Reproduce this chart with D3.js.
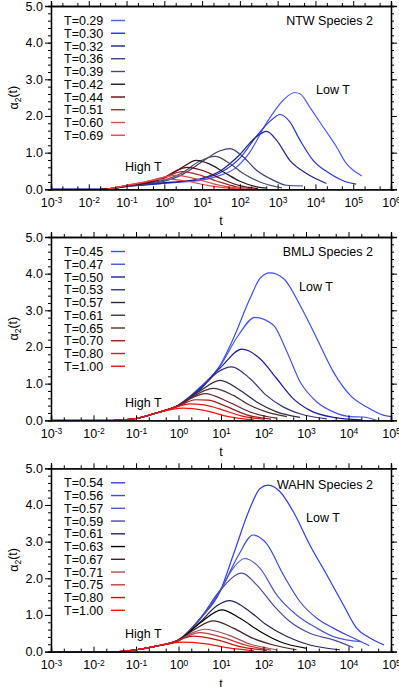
<!DOCTYPE html>
<html>
<head>
<meta charset="utf-8">
<script src="https://cdn.jsdelivr.net/npm/d3@7"></script>
<style>
  body { margin: 0; background: #fff; }
  svg text { font-family: "Liberation Sans", Arial, Helvetica, sans-serif; }
</style>
</head>
<body>
<svg id="chart" width="399" height="687"></svg>
<script>
// ---- NTW species 2 ----
const ntwTemps  = ["0.29", "0.30", "0.32", "0.36", "0.39", "0.42", "0.44", "0.51", "0.60", "0.69"];
const ntwColors = ["#4a5cff", "#2233dd", "#1c2299", "#3c3c88", "#4a4a66", "#2a1a1a", "#6b0a0a", "#a82a2a", "#e44a4a", "#ff3c3c"];
const ntwCurves = [
  [[1e-3,0],[0.02,0],[0.05,0.03],[0.1,0.08],[0.3,0.12],[1,0.16],[3,0.2],[10,0.25],[30,0.38],[70,0.55],[180,1.0],[500,1.8],[1.4e3,2.43],[2.8e3,2.64],[4e3,2.6],[7e3,2.25],[1.6e4,1.7],[3.6e4,1.16],[6.6e4,0.7],[1e5,0.52],[1.7e5,0.36]],
  [[1e-3,0],[0.02,0],[0.05,0.03],[0.1,0.08],[0.3,0.12],[1,0.17],[3,0.21],[10,0.28],[30,0.45],[100,0.85],[300,1.5],[700,1.9],[1.15e3,2.04],[2.1e3,1.84],[3.9e3,1.34],[8.7e3,0.79],[2.4e4,0.43],[6.6e4,0.2],[1.2e5,0.14]],
  [[1e-3,0],[0.02,0],[0.05,0.03],[0.1,0.08],[0.3,0.13],[1,0.18],[3,0.22],[10,0.3],[30,0.5],[100,0.95],[250,1.4],[510,1.58],[930,1.34],[2.1e3,0.79],[5.8e3,0.43],[1.95e4,0.16]],
  [[1e-3,0],[0.02,0],[0.05,0.03],[0.1,0.08],[0.3,0.14],[1,0.22],[3,0.4],[10,0.75],[30,1.05],[55,1.11],[123,0.88],[275,0.52],[760,0.25],[1.7e3,0.11],[4.7e3,0.09]],
  [[0.02,0],[0.05,0.03],[0.1,0.09],[0.3,0.15],[1,0.25],[3,0.45],[8,0.75],[22,0.9],[55,0.7],[123,0.43],[340,0.2],[930,0.07],[1.3e3,0.04]],
  [[0.02,0],[0.05,0.03],[0.1,0.09],[0.3,0.16],[1,0.3],[3,0.6],[7,0.79],[15,0.7],[40,0.45],[100,0.22],[300,0.06],[500,0.03]],
  [[0.03,0],[0.1,0.1],[0.3,0.18],[1,0.32],[2,0.5],[4,0.6],[10,0.52],[30,0.3],[100,0.1],[300,0.02]],
  [[0.03,0],[0.1,0.1],[0.3,0.19],[1,0.33],[3,0.48],[8,0.4],[25,0.22],[80,0.07],[200,0.02]],
  [[0.03,0],[0.1,0.11],[0.3,0.2],[1,0.33],[2,0.38],[6,0.3],[20,0.15],[60,0.05],[130,0.02]],
  [[0.03,0],[0.1,0.11],[0.3,0.2],[0.6,0.26],[1.2,0.28],[4,0.22],[15,0.1],[50,0.03],[100,0.01]]
];

// ---- BMLJ species 2 ----
const bmljTemps  = ["0.45", "0.47", "0.50", "0.53", "0.57", "0.61", "0.65", "0.70", "0.80", "1.00"];
const bmljColors = ["#3a4cff", "#4454ee", "#1a1aaa", "#33337a", "#2a2a40", "#4a3030", "#6a2424", "#a01c1c", "#e01414", "#ff1010"];
const bmljCurves = [
  [[1e-3,0],[0.03,0],[0.05,0.01],[0.1,0.05],[0.3,0.2],[1,0.42],[3.2,0.9],[9.5,1.5],[19.5,2.23],[48,3.32],[83,3.87],[141,4.02],[295,3.87],[725,3.14],[1.8e3,2.23],[4.4e3,1.32],[1.1e4,0.68],[2.7e4,0.36],[6.6e4,0.14],[1e5,0.1]],
  [[1e-3,0],[0.03,0],[0.05,0.01],[0.1,0.05],[0.3,0.2],[1,0.42],[3.2,0.88],[9.5,1.48],[25,2.3],[63,2.81],[170,2.6],[355,1.87],[725,1.05],[1.8e3,0.5],[4.4e3,0.23],[1.1e4,0.1],[2.2e4,0.09],[4.6e4,0]],
  [[1e-3,0],[0.03,0],[0.05,0.01],[0.1,0.05],[0.3,0.2],[1,0.41],[3.2,0.86],[10,1.45],[31,1.94],[83,1.68],[204,1.14],[500,0.59],[1.23e3,0.27],[4.4e3,0.08],[2e4,0.01]],
  [[0.03,0],[0.05,0.01],[0.1,0.05],[0.3,0.2],[1,0.41],[3.2,0.83],[8,1.3],[17.8,1.46],[48,1.14],[117,0.68],[295,0.36],[725,0.18],[3.1e3,0.04]],
  [[0.03,0],[0.05,0.01],[0.1,0.05],[0.3,0.2],[1,0.4],[3.2,0.8],[9.5,1.09],[28,0.82],[69,0.5],[204,0.23],[725,0.08]],
  [[0.03,0],[0.1,0.05],[0.3,0.2],[1,0.4],[2,0.62],[6.6,0.87],[19.5,0.68],[48,0.41],[117,0.23],[355,0.1]],
  [[0.03,0],[0.1,0.05],[0.3,0.2],[1,0.4],[2,0.6],[4.2,0.73],[15,0.5],[50,0.22],[200,0.06]],
  [[0.03,0],[0.1,0.05],[0.3,0.2],[1,0.39],[2.5,0.56],[5,0.55],[12,0.4],[40,0.15],[150,0.03]],
  [[0.03,0],[0.1,0.05],[0.3,0.2],[1,0.38],[1.8,0.45],[4,0.42],[10,0.3],[30,0.12],[100,0.03]],
  [[0.03,0],[0.1,0.05],[0.3,0.2],[0.7,0.3],[1.3,0.33],[4,0.27],[15,0.1],[60,0.01]]
];

// ---- WAHN species 2 ----
const wahnTemps  = ["0.54", "0.56", "0.57", "0.59", "0.61", "0.63", "0.67", "0.71", "0.75", "0.80", "1.00"];
const wahnColors = ["#2a3aff", "#3a4af0", "#4a5ad8", "#4a4aa0", "#22225a", "#000000", "#4a2020", "#a45050", "#c83a3a", "#cc1010", "#ff1010"];
const wahnCurves = [
  [[1e-3,0],[0.04,0],[0.1,0.05],[0.3,0.15],[1,0.32],[3.2,0.9],[9.5,1.64],[19.5,2.64],[48,3.91],[83,4.45],[130,4.54],[245,4.36],[500,3.82],[1.23e3,2.91],[3.1e3,2.09],[7.6e3,1.27],[1.55e4,0.64],[3.2e4,0.37],[6.9e4,0.18]],
  [[1e-3,0],[0.04,0],[0.1,0.05],[0.3,0.15],[1,0.32],[3.2,0.88],[9.5,1.64],[25,2.6],[57,3.18],[117,2.95],[295,2.09],[725,1.36],[1.8e3,0.91],[4.4e3,0.64],[1.1e4,0.41],[3.1e4,0.16]],
  [[1e-3,0],[0.04,0],[0.1,0.05],[0.3,0.15],[1,0.32],[3.2,0.88],[9.5,1.66],[20,2.3],[36,2.54],[83,2.27],[204,1.55],[600,1.0],[1.8e3,0.64],[4.4e3,0.41],[2e4,0.27]],
  [[1e-3,0],[0.04,0],[0.1,0.05],[0.3,0.15],[1,0.32],[3.2,0.9],[10,1.7],[31,2.14],[69,1.82],[170,1.27],[417,0.82],[1.23e3,0.5],[4.4e3,0.32],[1.3e4,0.11]],
  [[0.04,0],[0.1,0.05],[0.3,0.15],[1,0.31],[3.2,0.8],[8,1.25],[16,1.39],[48,1.09],[117,0.73],[355,0.41],[1.23e3,0.18],[6.3e3,0.05]],
  [[0.04,0],[0.1,0.05],[0.3,0.15],[1,0.31],[3.2,0.78],[10.5,1.14],[28,0.91],[83,0.55],[245,0.27],[1.05e3,0.09]],
  [[0.04,0],[0.1,0.05],[0.3,0.15],[1,0.3],[2.5,0.62],[6.6,0.84],[19.5,0.64],[57,0.36],[170,0.18],[600,0.05]],
  [[0.04,0],[0.1,0.05],[0.3,0.15],[1,0.3],[2,0.5],[4.2,0.61],[15,0.45],[50,0.2],[200,0.05]],
  [[0.04,0],[0.1,0.05],[0.3,0.15],[1,0.3],[1.6,0.42],[3.2,0.52],[10,0.4],[40,0.17],[150,0.04]],
  [[0.04,0],[0.1,0.05],[0.3,0.15],[1,0.3],[1.4,0.37],[2.2,0.42],[8,0.32],[30,0.13],[120,0.03]],
  [[0.04,0],[0.1,0.05],[0.3,0.15],[0.6,0.22],[1.2,0.26],[4,0.22],[15,0.1],[60,0.02]]
];

const yTicks = [0, 1, 2, 3, 4, 5];

const panels = [
  {top: 6,     name: "NTW Species 2",  xmax: 1e6, temps: ntwTemps,  colors: ntwColors,  curves: ntwCurves,
   nameY: 20.7, lowT: [316, 89.3], highT: [125, 166.7]},
  {top: 237,   name: "BMLJ Species 2", xmax: 1e5, temps: bmljTemps, colors: bmljColors, curves: bmljCurves,
   nameY: 251.7, lowT: [299, 286.7], highT: [125, 402.7]},
  {top: 468.3, name: "WAHN Species 2", xmax: 1e5, temps: wahnTemps, colors: wahnColors, curves: wahnCurves,
   nameY: 484, lowT: [306, 517.7], highT: [125, 633.3]}
];

const svg = d3.select("#chart"),
      left = 51, right = 391, h = 183.3,
      fs = "12.5px";

panels.forEach((p, pi) => {
  const x = d3.scaleLog().domain([1e-3, p.xmax]).range([left, right]),
        y = d3.scaleLinear().domain([0, 5]).range([p.top + h, p.top]),
        bottom = p.top + h;

  const decades = d3.range(-3, Math.log10(p.xmax) + 1).map(e => Math.pow(10, e));
  const minors = [];
  decades.forEach(d => { if (d < p.xmax) minors.push(d * 2, d * 5); });
  const yMinor = d3.range(0, 5.01, 0.2);

  const g = svg.append("g");

  // clip path for curves
  svg.append("clipPath").attr("id", "clip" + pi)
    .append("rect").attr("x", left).attr("y", p.top).attr("width", right - left).attr("height", h);

  // curves
  const line = d3.line()
    .x(d => x(d[0]))
    .y(d => y(d[1]))
    .curve(d3.curveMonotoneX);

  g.append("g").attr("clip-path", `url(#clip${pi})`)
    .selectAll("path")
    .data(p.curves)
    .enter().append("path")
      .attr("d", line)
      .attr("fill", "none")
      .attr("stroke", (d, i) => p.colors[i])
      .attr("stroke-width", 1.2);

  // bottom axis (ticks inward)
  const xb = g.append("g")
      .attr("transform", `translate(0,${bottom})`)
      .call(d3.axisBottom(x).tickValues(decades).tickSize(-5).tickPadding(9).tickFormat(""));
  xb.selectAll(".tick text").each(function(d) {
    const t = d3.select(this);
    t.text("10");
    t.append("tspan").attr("dy", "-0.45em").attr("font-size", "8.5px").text(Math.round(Math.log10(d)));
  });
  g.append("g")
      .attr("transform", `translate(0,${bottom})`)
      .call(d3.axisBottom(x).tickValues(minors).tickSize(-3).tickFormat(""));

  // top axis (ticks outward)
  g.append("g")
      .attr("transform", `translate(0,${p.top})`)
      .call(d3.axisTop(x).tickValues(decades).tickSize(5).tickFormat(""));
  g.append("g")
      .attr("transform", `translate(0,${p.top})`)
      .call(d3.axisTop(x).tickValues(minors).tickSize(3).tickFormat(""));

  // left axis
  g.append("g")
      .attr("transform", `translate(${left},0)`)
      .call(d3.axisLeft(y).tickValues(yMinor).tickSize(3).tickFormat(""));
  g.append("g")
      .attr("transform", `translate(${left},0)`)
      .call(d3.axisLeft(y).tickValues(yTicks).tickSize(6).tickPadding(2).tickFormat(d3.format(".1f")));

  // right axis
  g.append("g")
      .attr("transform", `translate(${right},0)`)
      .call(d3.axisRight(y).tickValues(yMinor).tickSize(3).tickFormat(""));
  g.append("g")
      .attr("transform", `translate(${right},0)`)
      .call(d3.axisRight(y).tickValues(yTicks).tickSize(6).tickFormat(""));

  g.selectAll(".domain").attr("stroke", "#000").attr("stroke-width", 1.3);
  g.selectAll(".tick line").attr("stroke", "#000");
  g.selectAll(".tick text")
    .attr("font-family", "Liberation Sans, Arial, sans-serif")
    .attr("font-size", fs)
    .attr("fill", "#000");

  // axis labels
  g.append("text")
    .attr("x", 221).attr("y", bottom + 36)
    .attr("text-anchor", "middle")
    .attr("font-size", fs)
    .text("t");

  const yl = g.append("text")
    .attr("transform", `translate(18,${p.top + h / 2}) rotate(-90)`)
    .attr("text-anchor", "middle")
    .attr("font-size", fs);
  yl.append("tspan").text("α");
  yl.append("tspan").attr("dy", "0.3em").attr("font-size", "8.5px").text("2");
  yl.append("tspan").attr("dy", "-0.3em").text("(t)");

  // legend
  const leg = g.append("g");
  p.temps.forEach((t, i) => {
    const cy = p.top + 14.5 + i * 12.75;
    leg.append("text")
      .attr("x", 64).attr("y", cy + 4.5)
      .attr("font-size", fs)
      .text("T=" + t);
    leg.append("line")
      .attr("x1", 111).attr("x2", 125)
      .attr("y1", cy).attr("y2", cy)
      .attr("stroke", p.colors[i])
      .attr("stroke-width", 1.4);
  });

  // annotations
  g.append("text").attr("x", 373).attr("y", p.nameY + 4.5)
    .attr("text-anchor", "end").attr("font-size", fs).text(p.name);
  g.append("text").attr("x", p.lowT[0]).attr("y", p.lowT[1] + 4.5)
    .attr("font-size", fs).text("Low T");
  g.append("text").attr("x", p.highT[0]).attr("y", p.highT[1] + 4.5)
    .attr("font-size", fs).text("High T");
});
</script>
</body>
</html>
